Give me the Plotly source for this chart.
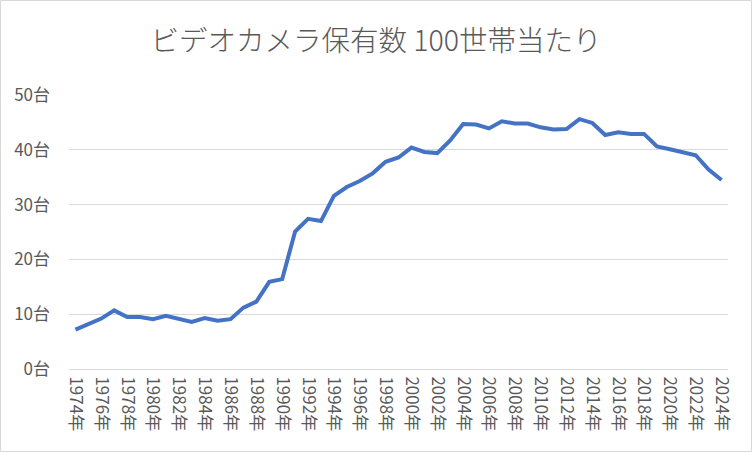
import plotly.graph_objects as go

years = list(range(1974, 2025))
values = [7.2, 8.3, 9.2, 10.7, 9.5, 9.5, 9.1, 9.7, 9.1, 8.6,
          9.3, 8.8, 9.1, 11.2, 12.3, 15.9, 16.4, 25.1, 27.4, 27.0,
          31.6, 33.2, 34.3, 35.7, 37.8, 38.6, 40.4, 39.6, 39.4, 41.7,
          44.7, 44.6, 43.9, 45.2, 44.8, 44.8, 44.1, 43.7, 43.8, 45.6,
          44.9, 42.7, 43.2, 42.9, 42.9, 40.6, 40.1, 39.6, 39.0, 36.4,
          34.5]
labels = [f"{y}年" for y in years]
tick_labels = [f"{y}年" for y in years if y % 2 == 0]
title_text = "ビデオカメラ保有数 100世帯当たり"

W, H = 752, 452
L, R, T, B = 69, 24, 95, 83
pw, ph = W - L - R, H - T - B

fig = go.Figure()
fig.add_trace(go.Scatter(
    x=labels, y=values, mode="lines",
    line=dict(color="#4472C4", width=4),
    hoverinfo="x+y",
))

fig.update_layout(
    width=W, height=H,
    margin=dict(l=L, r=R, t=T, b=B),
    paper_bgcolor="white", plot_bgcolor="white",
    font=dict(family="Noto Sans CJK JP", color="#595959", size=17),
    showlegend=False,
    title=dict(text=title_text, x=0.5, xanchor="center", y=1 - 41 / H, yanchor="middle",
               font=dict(size=28.5, color="#595959", family="Noto Sans CJK JP", weight=300)),
    xaxis=dict(
        type="category", range=[-0.5, len(labels) - 0.5],
        tickmode="array", tickvals=tick_labels, ticktext=tick_labels,
        tickangle=90, showgrid=False, showline=True, linecolor="#D9D9D9",
        ticks="", tickfont=dict(size=17, color="#595959"),
        ticklabelstandoff=3,
    ),
    yaxis=dict(
        range=[0, 50], dtick=10, ticksuffix="台",
        showgrid=True, gridcolor="#D9D9D9", gridwidth=1,
        zeroline=False, showline=False, ticks="",
        tickfont=dict(size=17, color="#595959"),
        ticklabelstandoff=18,
    ),
)

fig.add_shape(type="rect", xref="paper", yref="paper",
              x0=(0.5 - L) / pw, x1=(W - 0.5 - L) / pw,
              y0=-(B - 0.5) / ph, y1=1 + (T - 0.5) / ph,
              line=dict(color="#D9D9D9", width=1), fillcolor="rgba(0,0,0,0)", layer="below")

fig.write_html("out.html")
